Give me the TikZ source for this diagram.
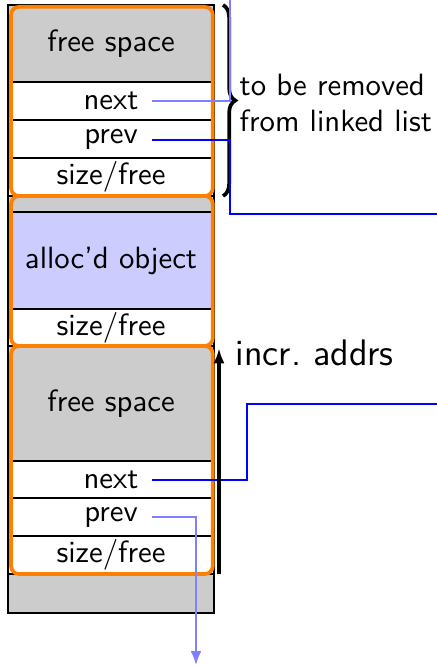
\documentclass[tikz,border=0pt]{standalone}
\usetikzlibrary{decorations.pathreplacing,arrows.meta}
\begin{document}
\begin{tikzpicture}[x=0.325pt,y=-0.325pt,font=\sffamily,
    cell/.style={draw=black,line width=0.9pt,minimum width=206*0.325pt,inner sep=0pt,
                 outer sep=0pt,anchor=north west},
    block/.style={draw=orange,very thick,rounded corners=2.6pt},
    ptrlight/.style={draw=blue!50,semithick},
    ptrdark/.style={draw=blue,semithick}]
  \useasboundingbox (0,0) rectangle (437,667);

  % first free block
  \node[cell,fill=gray!40,minimum height=77*0.325pt] (free1) at (8,5) {free space};
  \node[cell,minimum height=38*0.325pt] (next1) at (8,82) {next};
  \node[cell,minimum height=38*0.325pt] (prev1) at (8,120) {prev};
  \node[cell,minimum height=38*0.325pt] (size1) at (8,158) {size/free};

  % allocated block
  \node[cell,fill=gray!40,minimum height=16*0.325pt] (gap1) at (8,196) {};
  \node[cell,fill=blue!20,minimum height=97*0.325pt] (obj) at (8,212) {alloc'd object};
  \node[cell,minimum height=37*0.325pt] (size2) at (8,309) {size/free};

  % second free block
  \node[cell,fill=gray!40,minimum height=115*0.325pt] (free2) at (8,346) {free space};
  \node[cell,minimum height=37*0.325pt] (next2) at (8,461) {next};
  \node[cell,minimum height=38*0.325pt] (prev2) at (8,498) {prev};
  \node[cell,minimum height=38*0.325pt] (size3) at (8,536) {size/free};
  \node[cell,fill=gray!40,minimum height=39*0.325pt] (tail) at (8,574) {};

  % block outlines
  \draw[block] ([xshift=1pt,yshift=-0.6pt]free1.north west) rectangle ([xshift=-0.4pt]size1.south east);
  \draw[block] ([xshift=1pt]gap1.north west) rectangle ([xshift=-0.4pt]size2.south east);
  \draw[block] ([xshift=1pt]free2.north west) rectangle ([xshift=-0.4pt]size3.south east);

  % brace
  \coordinate (br1) at (223,5);
  \coordinate (br2) at (223,196);
  \draw[very thick,decorate,decoration={brace,amplitude=4pt}] (br1) -- (br2);
  \node[anchor=west,align=left,inner sep=1pt] (rmtxt) at (236,103)
    {to be removed\\from linked list};

  % pointers
  \coordinate (nx1) at (152,101);
  \coordinate (up1) at (230,-5);
  \coordinate (pv1) at (152,140);
  \coordinate (dn1) at (230,214);
  \coordinate (out1) at (445,214);
  \coordinate (nx2) at (152,480);
  \coordinate (up2) at (247,404);
  \coordinate (out2) at (445,404);
  \coordinate (pv2) at (152,517);
  \coordinate (end2) at (196,665);

  \draw[ptrlight] (nx1) -| (up1);
  \draw[ptrdark] (pv1) -| (dn1) -- (out1);
  \draw[ptrdark] (nx2) -| (up2) -- (out2);
  \draw[ptrlight,-{Latex[length=4.5pt,width=3.5pt]}] (pv2) -| (end2);

  % address direction
  \coordinate (addrlo) at (219,574);
  \coordinate (addrhi) at (219,348);
  \draw[line width=1pt,-{Latex[length=5pt,width=3.6pt]}] (addrlo) -- (addrhi);
  \node[anchor=west,font=\sffamily\large,inner sep=1pt] (incr) at (232,353) {incr.\ addrs};
\end{tikzpicture}
\end{document}
